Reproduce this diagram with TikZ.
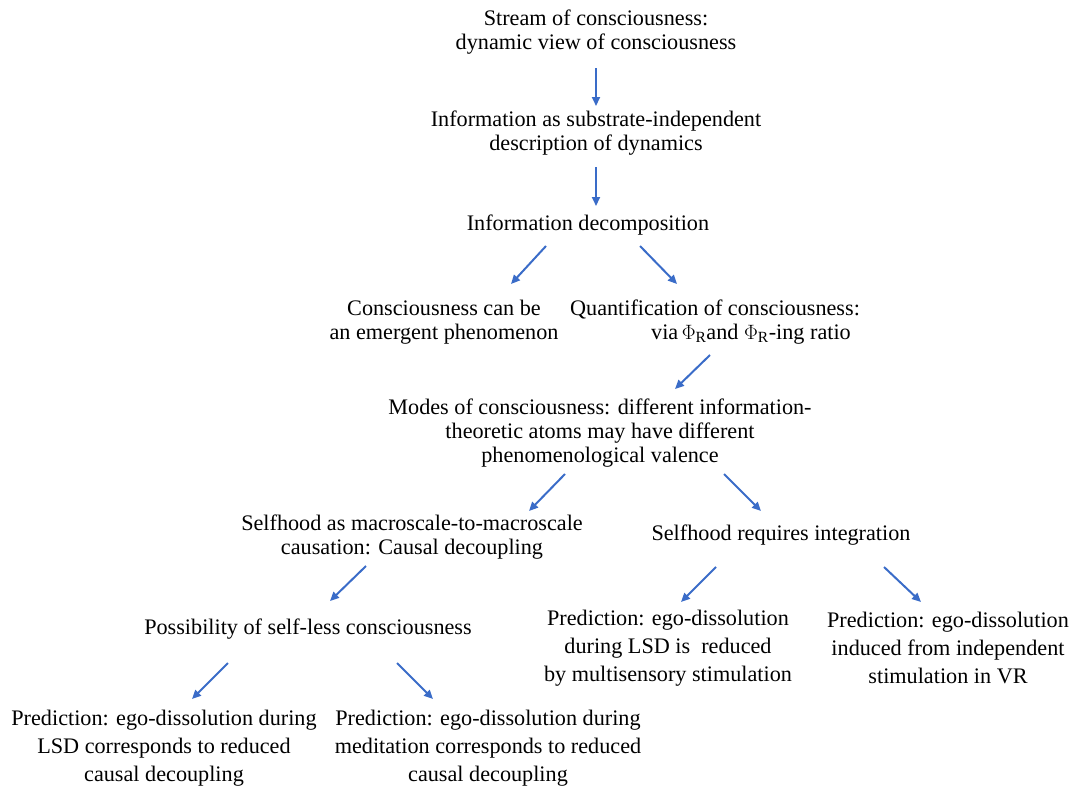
\documentclass[tikz,border=0pt]{standalone}
\usepackage{fontspec}
\setmainfont{Liberation Serif}
\usepackage{tikz}
\usetikzlibrary{arrows.meta}
\definecolor{arrowblue}{RGB}{58,108,200}

\tikzset{
  idea/.style={inner sep=0pt, align=center, font=\fontsize{22.2}{24.3}\selectfont},
  pred/.style={inner sep=0pt, align=center, font=\fontsize{22.2}{28.3}\selectfont},
  flow/.style={draw=arrowblue, line width=2pt, -{Triangle[length=9pt,width=8pt]}}
}

\begin{document}
\begin{tikzpicture}[x=1pt,y=-1pt]
			\useasboundingbox (0,0) rectangle (1073,790);
			\node[idea] (stream) at (596,32) {Stream of consciousness:\\dynamic view of consciousness};
			\node[idea] (substrate) at (596,133) {Information as substrate-independent\\description of dynamics};
			\node[idea] (decomp) at (588,225) {Information decomposition};
			\node[idea] (emergent) at (444,322) {Consciousness can be\\an emergent phenomenon};
			\node[idea] (quant) at (715,322) {Quantification of consciousness:\\\hspace*{72pt}via$\,\Phi_{\mathrm{R}}$and $\Phi_{\mathrm{R}}$-ing ratio};
			\node[idea] (modes) at (600,433) {Modes of consciousness: different information-\\theoretic atoms may have different\\phenomenological valence};
			\node[idea] (macro) at (412,537) {Selfhood as macroscale-to-macroscale\\causation: Causal decoupling};
			\node[idea] (integ) at (781,535) {Selfhood requires integration};
			\node[idea] (selfless) at (308,629) {Possibility of self-less consciousness};
			\node[pred] (multi) at (668,648) {Prediction: ego-dissolution\\during LSD is~~reduced\\by multisensory stimulation};
			\node[pred] (vr) at (948,648) {Prediction: ego-dissolution\\induced from independent\\stimulation in VR};
			\node[pred] (lsd) at (164,748) {Prediction: ego-dissolution during\\LSD corresponds to reduced\\causal decoupling};
			\node[pred] (medit) at (488,748) {Prediction: ego-dissolution during\\meditation corresponds to reduced\\causal decoupling};

			% arrow ends
			\coordinate (s1) at (596,68);  \coordinate (e1) at (596,106);
			\coordinate (s2) at (596,167); \coordinate (e2) at (596,206);
			\coordinate (s3) at (546,246); \coordinate (e3) at (511,284);
			\coordinate (s4) at (640,246); \coordinate (e4) at (677,284);
			\coordinate (s5) at (710,355); \coordinate (e5) at (675,389);
			\coordinate (s6) at (565,474); \coordinate (e6) at (529,511);
			\coordinate (s7) at (724,474); \coordinate (e7) at (761,511);
			\coordinate (s8) at (366,566); \coordinate (e8) at (330,601);
			\coordinate (s9) at (716,567); \coordinate (e9) at (681,602);
			\coordinate (s10) at (884,567); \coordinate (e10) at (921,602);
			\coordinate (s11) at (228,663); \coordinate (e11) at (192,699);
			\coordinate (s12) at (397,663); \coordinate (e12) at (433,699);

			\foreach \i in {1,...,12}
				\draw[flow] (s\i) -- (e\i);
		\end{tikzpicture}
\end{document}
